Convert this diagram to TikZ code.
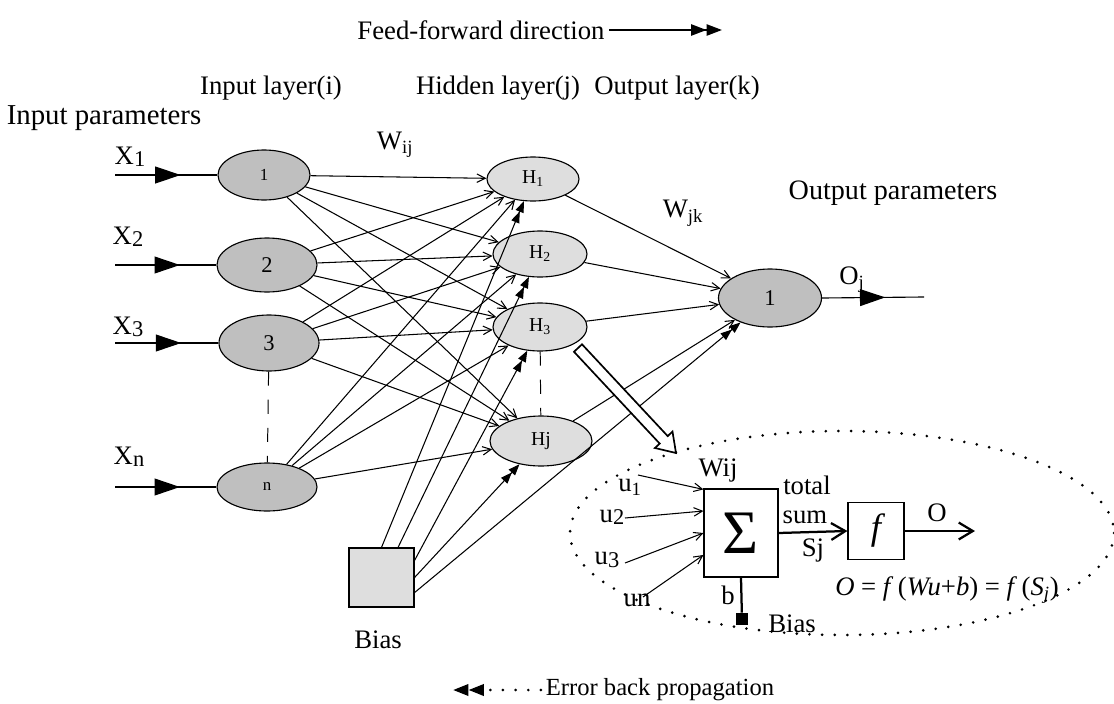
\documentclass[tikz,border=0pt]{standalone}
\usepackage{fontspec}
\setmainfont{Liberation Serif}
\usetikzlibrary{shapes.geometric,arrows.meta,decorations.markings,calc}
\newcommand{\bigtxt}{\fontsize{19}{22}\selectfont}
\newcommand{\midtxt}{\fontsize{16}{19}\selectfont}
\newcommand{\hidtxt}{\fontsize{14}{16}\selectfont}
\newcommand{\smtxt}{\fontsize{12}{14}\selectfont}
\tikzset{
  neuron/.style={ellipse,draw,line width=0.8pt,inner sep=0pt},
  innode/.style={neuron,fill=black!25,minimum width=2.5cm,minimum height=1.35cm},
  hidnode/.style={neuron,fill=black!13,minimum width=2.35cm,minimum height=1.15cm,font=\hidtxt},
  wire/.style={line width=0.75pt,-{Straight Barb[length=6pt,width=6pt]}},
  biaswire/.style={line width=0.75pt,-{Triangle[length=8pt,width=6pt]Triangle[length=8pt,width=6pt]}},
  feed/.style={line width=0.8pt,postaction={decorate},
    decoration={markings,mark=at position #1 with {\arrow{Triangle[length=18pt,width=12pt]}}}},
  dots/.style={line width=2.1pt,line cap=round,dash pattern=on 0pt off 9pt},
  thickarr/.style={line width=1.6pt,-{Straight Barb[length=10pt,width=12pt]}},
}

\begin{document}
\begin{tikzpicture}[x=0.025cm,y=-0.025cm]
  \useasboundingbox (0,0) rectangle (1114,704);
  % headings
  \node[font=\bigtxt] (ffd) at (481,30) {Feed-forward direction};
  \coordinate (ffe) at (722,30);
  \draw[line width=1.3pt,-{Triangle[length=11pt,width=8pt]Triangle[length=11pt,width=8pt]}] (ffd.east) -- (ffe);
  \node[font=\bigtxt] (lyi) at (271,88) {Input layer(i)};
  \node[font=\bigtxt] (lyj) at (498,88) {Hidden layer(j)};
  \node[font=\bigtxt] (lyk) at (677,88) {Output layer(k)};
  \node[font=\fontsize{20.5}{23}\selectfont] (inpar) at (104,118) {Input parameters};
  \node[font=\fontsize{20}{23}\selectfont] (outpar) at (893,193) {Output parameters};

  % input layer
  \node[innode,minimum width=2.3cm,minimum height=1.25cm,font=\smtxt] (i1) at (264,175) {1};
  \node[innode,font=\midtxt] (i2) at (267,265) {2};
  \node[innode,minimum height=1.4cm,font=\midtxt] (i3) at (269,343) {3};
  \node[innode,minimum height=1.2cm,font=\smtxt] (in) at (267,487) {n};
  \foreach \n/\y in {1/175,2/265,3/343,n/487}{
    \coordinate (x\n) at (115,\y);
    \draw[feed=0.64] (x\n) -- (i\n.west);
  }
  \node[font=\bigtxt] (lx1) at (130,157) {X\raisebox{-0.2ex}{\midtxt 1}};
  \node[font=\bigtxt] (lx2) at (128,237) {X\raisebox{-0.2ex}{\midtxt 2}};
  \node[font=\bigtxt] (lx3) at (128,327) {X\raisebox{-0.2ex}{\midtxt 3}};
  \node[font=\bigtxt] (lxn) at (129,457) {X\raisebox{-0.2ex}{\midtxt n}};

  % hidden layer
  \node[hidnode,minimum width=2.3cm,minimum height=1.1cm] (h1) at (533,179) {H\textsubscript{1}};
  \node[hidnode] (h2) at (540,254) {H\textsubscript{2}};
  \node[hidnode,minimum height=1.2cm] (h3) at (540,327) {H\textsubscript{3}};
  \node[hidnode,minimum width=2.55cm,minimum height=1.25cm] (hj) at (541,441) {Hj};

  % output layer
  \node[innode,minimum width=2.575cm,minimum height=1.45cm,font=\midtxt] (o1) at (770,298) {1};
  \coordinate (oend) at (924,297);
  \draw[feed=0.62] (o1.east) -- (oend);
  \node[font=\bigtxt] (loj) at (852,280) {O\textsubscript{j}};

  \foreach \a in {i1,i2,i3,in}
    \foreach \b in {h1,h2,h3,hj}
      \draw[wire] (\a) -- (\b);
  \foreach \b in {h1,h2,h3,hj}
    \draw[wire] (\b) -- (o1);
  \draw[line width=0.7pt,dash pattern=on 10pt off 10pt] (i3) -- (in);
  \draw[line width=0.7pt,dash pattern=on 10pt off 10pt] (h3) -- (hj);

  \node[font=\bigtxt] (wij) at (395,145) {W\textsubscript{ij}};
  \node[font=\bigtxt] (wjk) at (683,213) {W\textsubscript{jk}};

  % bias
  \node[draw,fill=black!13,line width=0.8pt,minimum width=1.625cm,minimum height=1.475cm] (bias) at (381.5,577.5) {};
  \node[font=\bigtxt] (lbias) at (378,640) {Bias};
  \draw[biaswire] (bias.north) -- (h1);
  \draw[biaswire] ($(bias.north)!0.5!(bias.north east)$) -- (h2);
  \draw[biaswire] ($(bias.north east)+(0,13)$) -- (h3);
  \draw[biaswire] (bias.east) -- (hj);
  \draw[biaswire] ($(bias.south east)+(0,-15)$) -- (o1);

  % zoom arrow
  \draw[line width=1.2pt,fill=white] (582,344.3) -- (667.7,436.1) -- (672.5,431.6) -- (676,453)
    -- (654.9,448) -- (659.7,443.6) -- (574,351.8) -- cycle;

  % single neuron
  \draw[dots] (842,533) ellipse [x radius=272, y radius=102];
  \node[draw,line width=0.8pt,minimum width=1.85cm,minimum height=2.2cm,inner sep=0pt,
        font=\fontsize{44}{44}\selectfont] (sum) at (741,533) {Σ};
  \node[draw,line width=0.8pt,minimum width=1.4cm,minimum height=1.425cm,inner sep=0pt,
        font=\fontsize{26}{26}\selectfont\itshape] (fbox) at (876,531) {f};
  \draw[thickarr] (sum.east) -- (fbox.west);
  \coordinate (oout) at (975,531);
  \draw[thickarr] (fbox.east) -- (oout);
  \node[font=\bigtxt] (lo) at (937,513) {O};
  \node[font=\bigtxt] (lwij) at (718,470) {Wij};
  \node[font=\bigtxt] (ltot) at (807,485) {total};
  \node[font=\bigtxt] (lsum) at (805,517) {sum};
  \node[font=\bigtxt] (lsj) at (813,550) {Sj};

  \node[font=\bigtxt] (lu1) at (630,487) {u\textsubscript{1}};
  \node[font=\bigtxt] (lu2) at (612,517) {u\raisebox{-0.2ex}{\midtxt 2}};
  \node[font=\bigtxt] (lu3) at (607,560) {u\raisebox{-0.2ex}{\midtxt 3}};
  \node[font=\bigtxt] (lun) at (637,600) {un};
  \coordinate (u1s) at (638,475);
  \coordinate (u2s) at (625,518);
  \coordinate (u3s) at (625,563);
  \coordinate (uns) at (643,597);
  \draw[wire] (u1s) -- ($(sum.north west)+(0,1)$);
  \draw[wire] (u2s) -- ($(sum.west)+(0,-22)$);
  \draw[wire] (u3s) -- (sum.west);
  \draw[wire] (uns) -- ($(sum.west)+(0,22)$);

  \node[fill=black,minimum size=0.3cm,inner sep=0pt] (bsq) at (742,619) {};
  \draw[line width=1.6pt] (sum.south) -- (bsq);
  \node[font=\bigtxt] (lb) at (728,595) {b};
  \node[font=\bigtxt] (lbias2) at (792,624) {Bias};
  \node[font=\bigtxt] (eq) at (947,590)
    {\textit{O} = \textit{f}\,(\textit{Wu}+\textit{b}) = \textit{f}\,(\textit{S}\textsubscript{\textit{j}})};

  % back propagation
  \node[font=\fontsize{17.5}{20}\selectfont] (ebp) at (660,690) {Error back propagation};
  \coordinate (ebs) at (453,690);
  \draw[dots,-{Triangle[length=11pt,width=8pt]Triangle[length=11pt,width=8pt]}] (ebp.west) -- (ebs);
\end{tikzpicture}
\end{document}
